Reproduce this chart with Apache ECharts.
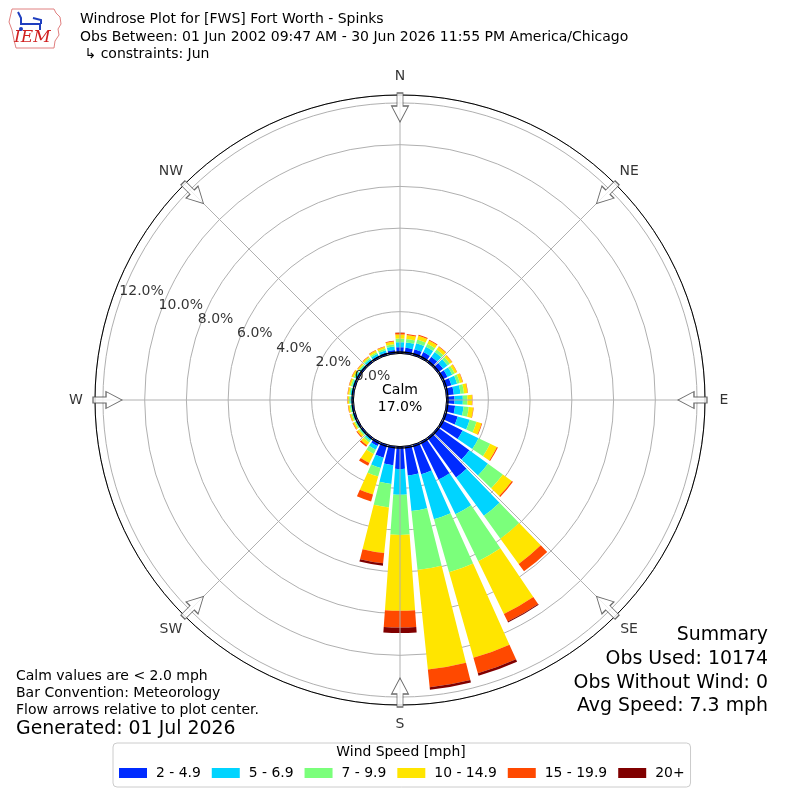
<!DOCTYPE html>
<html>
<head>
<meta charset="utf-8">
<script src="https://cdn.jsdelivr.net/npm/echarts@6/dist/echarts.min.js"></script>
<style>html,body{margin:0;padding:0;background:#fff}#c{width:800px;height:800px}</style>
</head>
<body>
<div id="c"></div>
<script>
// ---- data ----
const directions = [0,10,20,30,40,50,60,70,80,90,100,110,120,130,140,150,160,170,180,190,200,210,220,230,240,250,260,270,280,290,300,310,320,330,340,350];
const speedBins = ['2 - 4.9','5 - 6.9','7 - 9.9','10 - 14.9','15 - 19.9','20+'];
const binColors = ['#002bff','#00d4ff','#7bff7b','#ffe500','#ff4900','#800000'];
const spd2to5   = [0.30,0.28,0.30,0.32,0.33,0.32,0.30,0.33,0.36,0.38,0.42,0.64,1.10,1.87,2.35,2.00,1.47,1.40,1.07,0.91,0.64,0.22,0.10,0.07,0.07,0.07,0.07,0.08,0.08,0.08,0.09,0.08,0.10,0.12,0.13,0.18];
const spd5to7   = [0.24,0.26,0.30,0.28,0.28,0.26,0.25,0.28,0.32,0.40,0.41,0.60,0.85,1.10,2.27,1.85,2.24,1.71,1.24,0.90,0.51,0.20,0.08,0.06,0.06,0.06,0.06,0.07,0.07,0.07,0.08,0.07,0.09,0.11,0.12,0.17];
const spd7to10  = [0.17,0.17,0.18,0.16,0.15,0.14,0.13,0.14,0.17,0.22,0.25,0.34,0.62,0.88,1.35,2.50,2.64,2.85,1.92,1.13,0.43,0.22,0.10,0.07,0.06,0.06,0.06,0.06,0.06,0.07,0.07,0.06,0.07,0.08,0.08,0.10];
const spd10to15 = [0.20,0.19,0.19,0.17,0.16,0.13,0.12,0.14,0.17,0.22,0.22,0.25,0.36,0.53,1.49,2.81,4.26,4.79,3.64,2.20,0.90,0.48,0.17,0.10,0.08,0.07,0.07,0.07,0.07,0.08,0.09,0.07,0.07,0.09,0.09,0.13];
const spd15to20 = [0.08,0.05,0.05,0.05,0.03,0.02,0.02,0.02,0.02,0.02,0.02,0.03,0.05,0.07,0.44,0.41,0.77,0.85,0.80,0.49,0.34,0.15,0.08,0.05,0.03,0.02,0.02,0.02,0.02,0.02,0.02,0.02,0.02,0.03,0.03,0.04];
const spd20plus = [0.01,0,0,0,0,0,0,0,0,0,0,0,0,0,0,0.05,0.12,0.12,0.26,0.12,0,0,0,0,0,0,0,0,0,0,0,0,0,0,0,0];
const radiusTicks = [0,2,4,6,8,10,12];
const radiusTickLabels = ['0.0%','2.0%','4.0%','6.0%','8.0%','10.0%','12.0%'];
const compassNames = ['N','NE','E','SE','S','SW','W','NW'];
const compassAngles = [0,45,90,135,180,225,270,315];
const calmPct = 17.0;
const titleLines = ['Windrose Plot for [FWS] Fort Worth - Spinks',
  'Obs Between: 01 Jun 2002 09:47 AM - 30 Jun 2026 11:55 PM America/Chicago',
  ' \u21b3 constraints: Jun'];
const noteLines = ['Calm values are < 2.0 mph','Bar Convention: Meteorology','Flow arrows relative to plot center.'];
const generatedText = 'Generated: 01 Jul 2026';
const summaryLines = ['Summary','Obs Used: 10174','Obs Without Wind: 0','Avg Speed: 7.3 mph'];

const binData = [spd2to5, spd5to7, spd7to10, spd10to15, spd15to20, spd20plus];

// ---- layout ----
const FF = '"DejaVu Sans", sans-serif';
const R0 = 46.6, R1 = 305, RMAX = 12.38;
const arrowPath = 'path://M5.5 0 L11.5 0 L11.5 13 L17 13 L8.5 29 L0 13 L5.5 13 Z';

const hiddenAngle = {axisLine:{show:false},axisTick:{show:false},axisLabel:{show:false},splitLine:{show:false}};
const hiddenRadius = {axisLine:{show:false},axisTick:{show:false},axisLabel:{show:false},splitLine:{show:false}};

const chart = echarts.init(document.getElementById('c'), null, {renderer:'canvas'});

const barSeries = speedBins.map((name, i) => ({
  type:'bar', name, coordinateSystem:'polar', polarIndex:1, stack:'wind',
  data: binData[i], barCategoryGap:'18%',
  itemStyle:{color: binColors[i]}, z:2, silent:true
}));

const txt = (x, y, text, size, align, extra) => Object.assign({
  type:'text', x, y, silent:true, z:50,
  style:{text, fill:'#000', font: size + 'px ' + FF, align: align || 'left', verticalAlign:'middle'}
}, extra || {});

const graphics = [];
titleLines.forEach((t, i) => graphics.push(txt(80, [19,37,54][i], t, 14)));
noteLines.forEach((t, i) => graphics.push(txt(16, [676,693,710][i], t, 14)));
graphics.push(txt(16, 729, generatedText, 18.9));
summaryLines.forEach((t, i) => graphics.push(txt(768, [635,659,683,706][i], t, 18.9, 'right')));
graphics.push(txt(400, 390, 'Calm', 14, 'center'));
graphics.push(txt(400, 407, calmPct.toFixed(1) + '%', 14, 'center'));
graphics.push(txt(401, 752, 'Wind Speed [mph]', 13.9, 'center'));
// IEM logo
graphics.push({type:'polyline', silent:true, z:50,
  shape:{points:[[12,9],[54,9],[56,13],[60,17],[61,24],[58,29],[59,35],[55,41],[54,48],[16,48],[14,40],[12,30],[9,22],[12,9]]},
  style:{stroke:'#e08080', fill:'none', lineWidth:1}});
graphics.push({type:'text', x:14, y:38, silent:true, z:50,
  style:{text:'IEM', fill:'#d02020', font:'italic 17px "DejaVu Serif", serif', align:'left', verticalAlign:'middle'}});
graphics.push({type:'polyline', silent:true, z:50, shape:{points:[[18,12],[21,18],[21,24],[40,24],[40,30]]}, style:{stroke:'#1f3fbf', fill:'none', lineWidth:2}});
graphics.push({type:'polyline', silent:true, z:50, shape:{points:[[33,18],[41,20],[41,24]]}, style:{stroke:'#1f3fbf', fill:'none', lineWidth:2}});
graphics.push({type:'circle', silent:true, z:50, shape:{cx:21, cy:29, r:2}, style:{fill:'#1f3fbf'}});

const option = {
  animation:false,
  backgroundColor:'#fff',
  polar:[
    {center:['50%','50%'], radius:[R0, R1]},
    {center:['50%','50%'], radius:[R0, R1]},
    {center:['50%','50%'], radius:48}
  ],
  angleAxis:[
    {polarIndex:0, type:'value', min:0, max:360, interval:45, startAngle:90, clockwise:true, z:3,
     axisLine:{show:true, lineStyle:{color:'#000', width:1}}, axisTick:{show:false}, axisLabel:{show:false},
     splitLine:{show:true, lineStyle:{color:'#b0b0b0', width:1}}},
    Object.assign({polarIndex:1, type:'category', data:directions, startAngle:95, clockwise:true, boundaryGap:true}, hiddenAngle),
    Object.assign({polarIndex:2, type:'value', min:0, max:360, startAngle:90, z:4}, hiddenAngle,
      {axisLine:{show:true, lineStyle:{color:'#000', width:1.3}}})
  ],
  radiusAxis:[
    {polarIndex:0, type:'value', min:0, max:RMAX, interval:2, z:1,
     axisLine:{show:false}, axisTick:{show:false}, axisLabel:{show:false},
     splitLine:{show:true, lineStyle:{color:'#b0b0b0', width:1}}},
    Object.assign({polarIndex:1, type:'value', min:0, max:RMAX}, hiddenRadius),
    Object.assign({polarIndex:2, type:'value', min:0, max:1}, hiddenRadius)
  ],
  legend:{
    data: speedBins, left:113, top:743, orient:'horizontal', icon:'rect',
    itemWidth:28, itemHeight:10, itemGap:11, padding:[23,6,7,6],
    borderColor:'#cccccc', borderWidth:1, borderRadius:4, selectedMode:false,
    textStyle:{fontFamily:FF, fontSize:13.9, color:'#000', padding:[0,0,0,4]}
  },
  graphic: graphics,
  series: barSeries.concat([
    {type:'scatter', name:'arrows', coordinateSystem:'polar', polarIndex:0, clip:false, silent:true, z:10,
     symbol: arrowPath, symbolSize:[17,29],
     itemStyle:{color:'#fff', borderColor:'#444', borderWidth:1},
     data: compassAngles.map(a => ({value:[11.78, a], symbolRotate:-a}))},
    {type:'scatter', name:'compass', coordinateSystem:'polar', polarIndex:0, clip:false, silent:true, z:11,
     symbolSize:1, itemStyle:{color:'rgba(0,0,0,0)'},
     label:{show:true, position:'inside', formatter:'{b}', fontFamily:FF, fontSize:14, color:'#000'},
     data: compassAngles.map((a, i) => ({value:[13.29, a], name:compassNames[i]}))},
    {type:'scatter', name:'rlabels', coordinateSystem:'polar', polarIndex:0, clip:false, silent:true, z:12,
     symbolSize:1, itemStyle:{color:'rgba(0,0,0,0)'},
     label:{show:true, position:[-1,0], align:'left', verticalAlign:'bottom', formatter:'{b}', fontFamily:FF, fontSize:14, color:'#000'},
     data: radiusTicks.map((v, i) => ({value:[v, 290], name:radiusTickLabels[i]}))}
  ])
};
chart.setOption(option);
</script>
</body>
</html>
